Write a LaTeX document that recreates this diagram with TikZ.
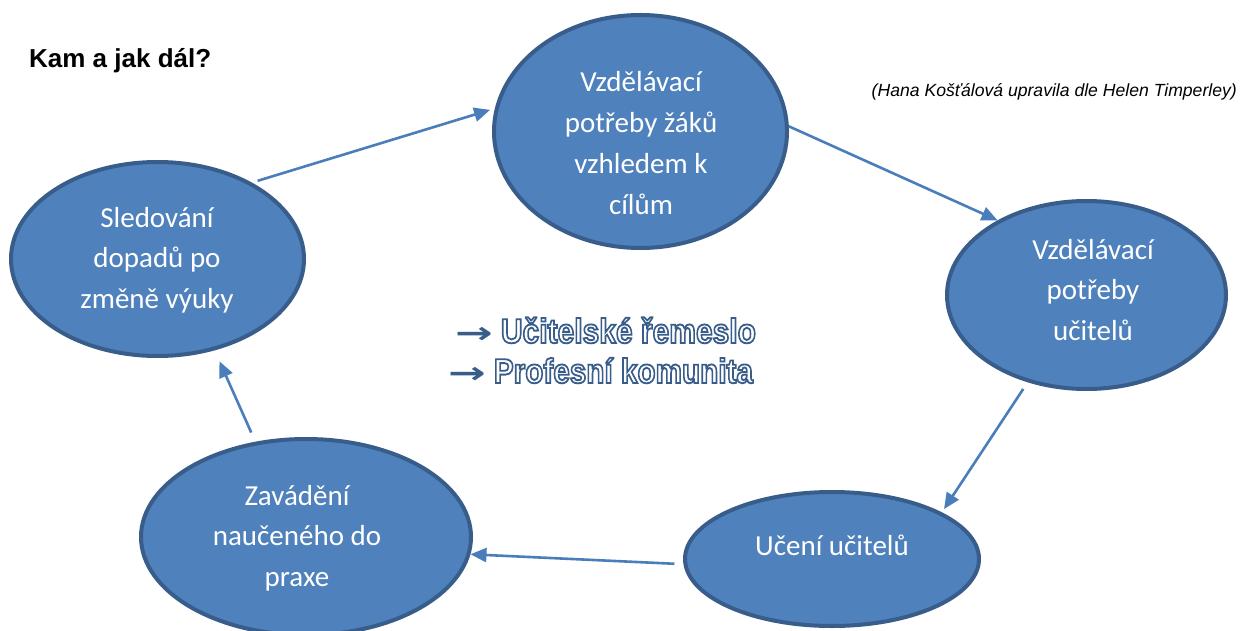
\documentclass[tikz,border=0pt]{standalone}
\usepackage{fontspec}
\setmainfont{Carlito}
\newfontfamily\arialf{Liberation Sans}
\newfontfamily\dejavu{DejaVu Sans}
\usetikzlibrary{shapes.geometric,arrows.meta}
\definecolor{efill}{HTML}{4F81BD}
\definecolor{eline}{HTML}{385D8A}
\definecolor{conncol}{HTML}{4A7EBB}
\definecolor{outc}{HTML}{385D8A}
\newcommand\outlined[1]{\special{pdf:code 1 Tr 1.6 w}#1\special{pdf:code 0 Tr 0.4 w}}
\begin{document}
\begin{tikzpicture}[x=1pt,y=-1pt,
  ell/.style={ellipse, draw=eline, fill=efill, line width=4pt, inner sep=0pt},
  lbl/.style={text=white, align=center, inner sep=0pt, font=\fontsize{29}{40.7}\selectfont},
  flow/.style={draw=conncol, line width=2.6pt, -{Triangle[length=16pt,width=14pt]}},
  ctext/.style={anchor=base west, inner sep=0pt, text=outc, font=\arialf\bfseries\fontsize{30}{36}\selectfont}]
\useasboundingbox[fill=white] (0,0) rectangle (1242,631);
% ellipses
\node[ell, minimum width=293pt, minimum height=233pt] (top) at (640.5,131.5) {};
\node[ell, minimum width=279pt, minimum height=188pt] (right) at (1086.5,295) {};
\node[ell, minimum width=294pt, minimum height=134pt] (br) at (832,559) {};
\node[ell, minimum width=330pt, minimum height=196pt] (bl) at (306,537) {};
\node[ell, minimum width=293pt, minimum height=194pt] (left) at (157.5,259) {};
% labels
\node[lbl] (topT) at (641,143) {Vzdělávací\\potřeby žáků\\vzhledem k\\cílům};
\node[lbl] (rightT) at (1093,290) {Vzdělávací\\potřeby\\učitelů};
\node[lbl, anchor=base] (brT) at (832,555) {Učení učitelů};
\node[lbl] (blT) at (297,538) {Zavádění\\naučeného do\\praxe};
\node[lbl] (leftT) at (157,260) {Sledování\\dopadů po\\změně výuky};
% title and citation
\node[anchor=base west, inner sep=0pt, font=\arialf\bfseries\fontsize{26}{30}\selectfont] (title) at (29,68) {Kam a jak dál?};
\node[anchor=base east, inner sep=0pt, font=\arialf\itshape\fontsize{17.6}{20}\selectfont] (cite) at (1237,97) {(Hana Košťálová upravila dle Helen Timperley)};
% connectors
\draw[flow, shorten <=6pt, shorten >=5pt] (left.39) -- (top.171);
\draw[flow] (top.2) -- (right.140);
\draw[flow, shorten <=8pt, shorten >=4pt] (right.-124) -- (br.23);
\draw[flow, shorten <=9pt] (br.182) -- (bl.-6);
\draw[flow, shorten <=10pt, shorten >=12pt] (bl.118) -- (left.-58);
% centre text (outlined letters)
\node[ctext] (c1) at (455,343) {{\dejavu\scalebox{1.5}[1]{→}}\hspace{8pt}\scalebox{1.0}[1.15]{\outlined{Učitelské řemeslo}}};
\node[ctext] (c2) at (448,383) {{\dejavu\scalebox{1.5}[1]{→}}\hspace{8pt}\scalebox{0.99}[1.15]{\outlined{Profesní komunita}}};
\end{tikzpicture}
\end{document}
